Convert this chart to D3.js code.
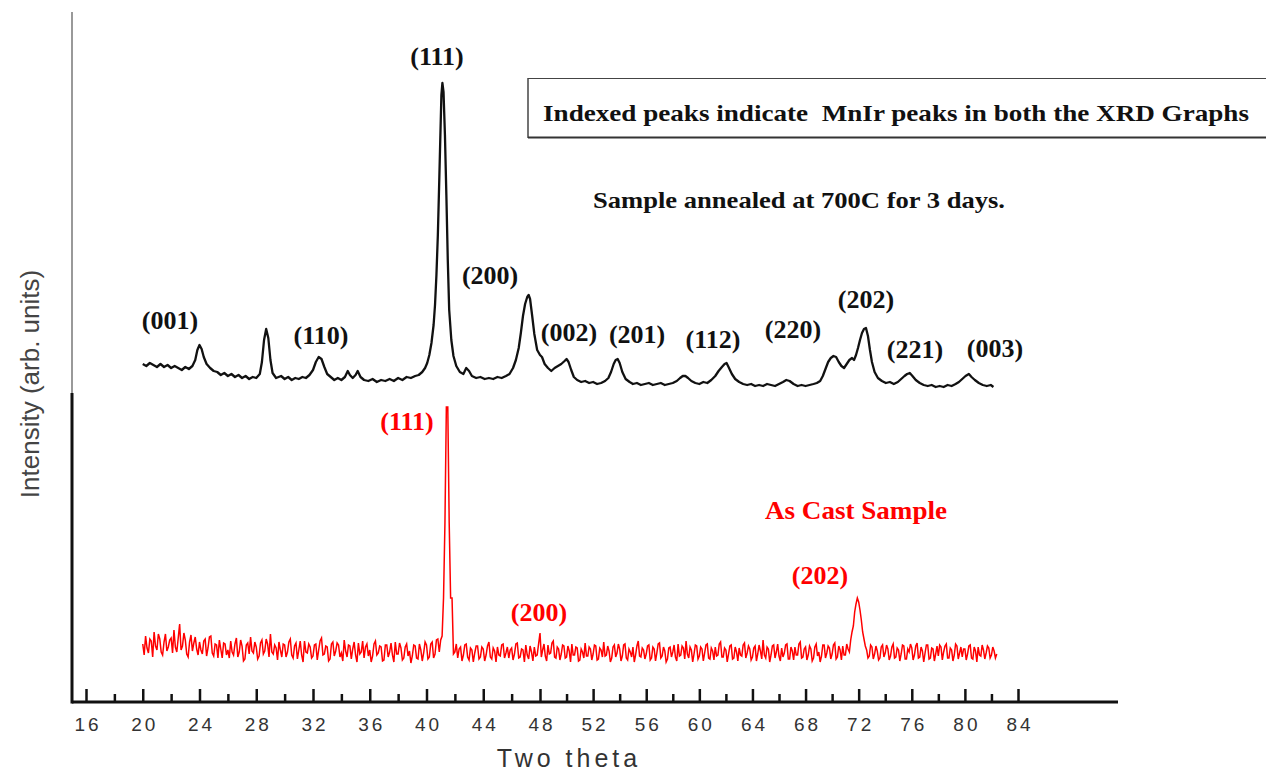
<!DOCTYPE html>
<html>
<head>
<meta charset="utf-8">
<script src="https://cdn.jsdelivr.net/npm/d3@7"></script>
<style>
  html, body { margin: 0; padding: 0; background: #fff; }
  svg { display: block; }
</style>
</head>
<body>
<svg id="chart" width="1266" height="773"></svg>
<script>
// ---------------- DATA ----------------
// Annealed sample (700C, 3 days): [two theta, intensity (arb.)]
const annealedScan = [
  [20.0,38],[20.25,36],[20.5,39],[20.75,37],[21.0,35],[21.25,38],[21.5,35],[21.75,37],[22.0,34],[22.25,36],
  [22.5,34],[22.75,32],[23.0,35],[23.25,33],[23.5,36],[23.7,42],[23.85,52],[24.0,57],[24.15,53],[24.3,45],
  [24.5,38],[24.75,34],[25.0,31],[25.25,30],[25.5,27],[25.75,29],[26.0,26],[26.25,28],[26.5,25],[26.75,27],
  [27.0,24],[27.25,26],[27.5,23],[27.75,25],[28.0,24],[28.25,28],[28.4,40],[28.55,62],[28.7,73],[28.85,64],
  [29.0,42],[29.15,29],[29.4,24],[29.75,26],[30.0,23],[30.25,25],[30.5,22],[30.75,24],[31.0,23],[31.25,25],
  [31.5,24],[31.75,27],[32.0,32],[32.2,40],[32.4,45],[32.6,43],[32.8,35],[33.0,28],[33.25,25],[33.5,22],
  [33.75,24],[34.0,22],[34.25,25],[34.45,31],[34.6,27],[34.8,24],[35.0,27],[35.15,31],[35.35,25],[35.6,22],
  [35.9,21],[36.2,23],[36.5,20],[36.8,22],[37.1,21],[37.4,23],[37.7,21],[38.0,24],[38.3,22],[38.6,25],
  [38.9,24],[39.2,26],[39.45,27],[39.7,30],[39.9,34],[40.05,39],[40.2,47],[40.35,59],[40.5,77],[40.6,97],
  [40.7,127],[40.8,167],[40.9,222],[40.97,262],[41.05,307],[41.12,319],[41.2,310],[41.3,267],[41.4,207],[41.5,142],
  [41.6,92],[41.75,62],[41.9,46],[42.1,36],[42.35,30],[42.6,28],[42.8,34],[43.0,31],[43.2,26],[43.5,24],
  [43.8,25],[44.1,23],[44.4,24],[44.7,23],[45.0,25],[45.3,24],[45.6,26],[45.85,28],[46.1,34],[46.3,42],
  [46.5,54],[46.65,69],[46.8,86],[46.95,98],[47.1,105],[47.2,107],[47.3,103],[47.45,86],[47.6,68],[47.8,52],
  [48.0,47],[48.15,45],[48.35,38],[48.6,34],[48.85,31],[49.1,34],[49.35,36],[49.6,38],[49.85,41],[50.0,43],
  [50.15,40],[50.35,32],[50.55,25],[50.8,22],[51.1,20],[51.4,21],[51.7,19],[52.0,20],[52.3,18],[52.6,19],
  [52.9,21],[53.15,24],[53.35,30],[53.55,38],[53.7,42],[53.85,43],[54.0,39],[54.2,30],[54.45,23],[54.75,20],
  [55.0,18],[55.3,19],[55.6,17],[55.9,18],[56.2,19],[56.5,17],[56.8,18],[57.1,19],[57.4,17],[57.7,18],
  [58.0,19],[58.3,21],[58.55,24],[58.75,26],[58.95,26],[59.15,24],[59.4,21],[59.7,19],[60.0,18],[60.3,20],
  [60.6,19],[60.9,22],[61.2,26],[61.45,31],[61.7,35],[61.9,38],[62.05,39],[62.2,35],[62.45,28],[62.7,23],
  [63.0,20],[63.3,18],[63.6,17],[63.9,18],[64.2,16],[64.5,17],[64.8,16],[65.1,18],[65.4,17],[65.7,16],
  [66.0,18],[66.3,20],[66.55,22],[66.8,21],[67.1,18],[67.4,16],[67.7,17],[68.0,16],[68.3,17],[68.6,18],
  [68.85,19],[69.1,21],[69.3,26],[69.5,33],[69.7,40],[69.9,44],[70.1,46],[70.3,45],[70.5,40],[70.7,36],
  [70.9,34],[71.1,38],[71.3,42],[71.5,44],[71.65,42],[71.8,47],[71.95,54],[72.1,62],[72.25,69],[72.4,73],
  [72.55,74],[72.7,66],[72.85,52],[73.0,40],[73.2,30],[73.45,24],[73.75,21],[74.05,19],[74.35,20],[74.65,18],
  [74.95,20],[75.2,23],[75.45,26],[75.65,28],[75.85,29],[76.05,26],[76.3,22],[76.6,19],[76.9,17],[77.2,16],
  [77.5,17],[77.8,15],[78.1,16],[78.4,15],[78.7,17],[79.0,16],[79.3,18],[79.55,20],[79.8,23],[80.05,26],
  [80.3,28],[80.5,25],[80.75,22],[81.05,19],[81.35,17],[81.65,16],[81.95,17],[82.15,15]
];

// As cast sample: scan start / step (two theta) and intensities (arb.)
const castStart = 20.0;
const castStep = 0.1;
const castIntensity = [
  58,47,66,54,49,63,61,45,70,56,52,68,63,50,47,60,68,51,55,62,
  64,49,72,55,50,64,78,52,56,69,62,48,45,60,67,51,59,65,53,47,
  60,52,48,61,63,46,54,65,66,49,46,58,57,44,62,53,44,59,58,47,
  52,44,61,50,47,58,64,45,50,62,56,41,43,57,59,48,65,51,49,60,
  55,43,46,59,62,48,51,63,58,45,68,50,48,57,54,42,60,52,45,58,
  57,45,50,60,63,47,44,56,59,43,52,61,47,40,61,50,49,58,55,44,
  46,57,58,42,52,61,64,47,48,56,55,41,43,58,60,46,51,59,57,45,
  49,41,62,51,45,57,56,43,53,60,47,40,59,48,50,61,44,55,58,46,
  52,40,46,58,61,47,49,56,55,41,42,57,57,45,50,59,47,40,60,48,
  48,59,54,42,44,55,58,46,51,39,46,57,56,44,43,58,52,41,49,60,
  57,43,45,58,60,44,48,62,63,50,62,66,104,179,295,295,179,104,104,48,
  50,58,44,53,55,41,47,57,58,45,42,54,52,40,49,56,56,43,45,55,
  53,41,47,56,60,45,43,54,51,40,55,47,46,57,58,44,49,55,44,52,
  54,42,48,58,59,44,45,53,52,40,57,47,43,56,50,41,55,46,47,58,
  69,45,52,58,46,41,57,48,49,59,61,45,44,55,53,42,48,57,56,44,
  45,56,51,40,58,47,47,55,54,41,42,53,50,44,59,46,46,55,53,42,
  48,57,56,42,43,54,52,45,60,46,47,56,51,40,44,55,57,45,49,58,
  53,41,46,57,58,44,42,53,50,45,55,40,47,56,61,46,45,54,52,43,
  48,56,57,42,44,55,53,41,49,58,59,44,46,55,51,40,43,54,55,45,
  50,57,45,41,58,46,47,56,54,43,61,48,44,55,52,40,48,57,56,43,
  46,55,53,41,49,57,58,44,43,54,51,42,55,46,47,58,60,45,45,54,
  52,40,48,56,57,43,44,55,50,41,54,47,46,57,59,44,49,56,53,42,
  45,54,56,41,48,57,51,43,62,47,44,55,53,40,47,56,57,44,50,58,
  46,41,54,45,49,57,58,43,43,55,51,42,55,47,47,58,60,44,45,53,
  55,42,47,56,53,41,44,55,58,46,50,40,46,57,57,44,49,56,54,43,
  48,57,59,43,45,56,52,42,56,47,47,58,53,50,62,70,76,90,98,104,
  100,92,82,70,63,56,52,44,46,57,55,43,48,56,51,42,44,55,57,45,
  49,57,53,42,46,55,58,44,45,54,52,41,48,57,56,43,43,53,50,58,
  54,42,47,56,59,44,45,55,51,40,49,57,57,43,44,54,53,41,48,56,
  46,57,55,42,50,56,58,44,44,54,52,41,47,58,56,43,49,55,45,53,
  53,42,48,56,57,44,43,55,51,40,55,47,46,57,52,43,49,56,54,44,
  47,55,51,44,48
];

// Peak index labels: [label, two theta, intensity]
const annealedLabels = [
  ["(001)",21.92,73],["(110)",32.56,58],["(111)",40.74,337],["(200)",44.48,118],
  ["(002)",50.18,61],["(201)",55.31,59],["(112)",61.03,54],["(220)",67.05,64],
  ["(202)",72.55,94],["(221)",76.24,44],["(003)",82.27,45]
];
const castLabels = [
  ["(111)",38.63,272],["(200)",47.93,81],["(202)",69.09,118]
];

const majorTicks = [16,20,24,28,32,36,40,44,48,52,56,60,64,68,72,76,80,84];
const minorTicks = [18,22,26,30,34,38,42,46,50,54,58,62,66,70,74,78,82];

const annealedOffset = 300;
const castOffset = 0;

const noteText = "Indexed peaks indicate  MnIr peaks in both the XRD Graphs";
const annealedTitle = "Sample annealed at 700C for 3 days.";
const castTitle = "As Cast Sample";
const xTitle = "Two theta";
const yTitle = "Intensity (arb. units)";

// ---------------- CHART ----------------
const svg = d3.select("#chart");
svg.append("rect").attr("width",1266).attr("height",773).attr("fill","#fff");

const x = d3.scaleLinear().domain([16,48,84]).range([86,540,1018]);
const y = d3.scaleLinear().domain([0,690]).range([702,12]);

const serif = "'Liberation Serif','Times New Roman',Times,serif";
const sans = "'Liberation Sans',Arial,Helvetica,sans-serif";

// curves
const castData = castIntensity.map((v,i) => [castStart + i*castStep, v]);
const lineC = d3.line().x(d => x(d[0])).y(d => y(d[1] + castOffset));
svg.append("path").datum(castData)
  .attr("d", lineC).attr("fill","none").attr("stroke","#ff0000")
  .attr("stroke-width",1.5).attr("stroke-linejoin","miter");

const lineA = d3.line().x(d => x(d[0])).y(d => y(d[1] + annealedOffset));
svg.append("path").datum(annealedScan)
  .attr("d", lineA).attr("fill","none").attr("stroke","#111")
  .attr("stroke-width",2.3).attr("stroke-linejoin","round");

// x axis
const axisY = 702;
const gx = svg.append("g").attr("transform",`translate(0,${axisY})`);
const minorAxis = d3.axisBottom(x).tickValues(minorTicks).tickSize(-8).tickFormat("");
const majorAxis = d3.axisBottom(x).tickValues(majorTicks).tickSize(-13).tickPadding(0).tickFormat(d => d);
gx.append("g").call(minorAxis).call(g => g.select(".domain").remove())
  .selectAll("line").attr("stroke","#111").attr("stroke-width",2.5);
const gMaj = gx.append("g").call(majorAxis).call(g => g.select(".domain").remove());
gMaj.selectAll("line").attr("stroke","#111").attr("stroke-width",2.5);
gMaj.selectAll("text")
  .attr("y", 29).attr("dy", 0).attr("dx", 1.5)
  .attr("font-family", sans).attr("font-size", 19).attr("letter-spacing", 3)
  .attr("fill","#333");
svg.append("line").attr("x1",72).attr("x2",1118).attr("y1",axisY).attr("y2",axisY)
  .attr("stroke","#111").attr("stroke-width",3);

// y axis (two pieces)
svg.append("line").attr("x1",72).attr("x2",72).attr("y1",12).attr("y2",395)
  .attr("stroke","#777").attr("stroke-width",1.5);
svg.append("line").attr("x1",72).attr("x2",72).attr("y1",393).attr("y2",703.5)
  .attr("stroke","#111").attr("stroke-width",3);

// axis titles
svg.append("text").text(xTitle)
  .attr("x",569).attr("y",767).attr("text-anchor","middle")
  .attr("font-family",sans).attr("font-size",25).attr("letter-spacing",4)
  .attr("fill","#333");
svg.append("text").text(yTitle)
  .attr("transform","translate(39,384) rotate(-90)").attr("text-anchor","middle")
  .attr("font-family",sans).attr("font-size",26)
  .attr("fill","#444");

// note box
svg.append("line").attr("x1",528).attr("x2",1266).attr("y1",78.5).attr("y2",78.5).attr("stroke","#444").attr("stroke-width",1);
svg.append("line").attr("x1",528).attr("x2",528).attr("y1",78).attr("y2",138).attr("stroke","#444").attr("stroke-width",1.5);
svg.append("line").attr("x1",528).attr("x2",1266).attr("y1",137.5).attr("y2",137.5).attr("stroke","#333").attr("stroke-width",2);
svg.append("text").text(noteText)
  .attr("x",543).attr("y",121).attr("font-family",serif).attr("font-weight","bold")
  .attr("font-size",24).attr("fill","#111").style("white-space","pre")
  .attr("textLength",706).attr("lengthAdjust","spacingAndGlyphs");

// titles of the two scans
svg.append("text").text(annealedTitle)
  .attr("x",593).attr("y",208).attr("font-family",serif).attr("font-weight","bold")
  .attr("font-size",24).attr("fill","#111")
  .attr("textLength",412).attr("lengthAdjust","spacingAndGlyphs");
svg.append("text").text(castTitle)
  .attr("x",765).attr("y",519).attr("font-family",serif).attr("font-weight","bold")
  .attr("font-size",25).attr("fill","#ff0000")
  .attr("textLength",182).attr("lengthAdjust","spacingAndGlyphs");

// peak labels
svg.append("g").selectAll("text").data(annealedLabels).join("text")
  .text(d => d[0]).attr("x", d => x(d[1])).attr("y", d => y(d[2] + annealedOffset))
  .attr("text-anchor","middle").attr("font-family",serif).attr("font-weight","bold")
  .attr("font-size",26).attr("fill","#111");
svg.append("g").selectAll("text").data(castLabels).join("text")
  .text(d => d[0]).attr("x", d => x(d[1])).attr("y", d => y(d[2] + castOffset))
  .attr("text-anchor","middle").attr("font-family",serif).attr("font-weight","bold")
  .attr("font-size",26).attr("fill","#ff0000");
</script>
</body>
</html>
